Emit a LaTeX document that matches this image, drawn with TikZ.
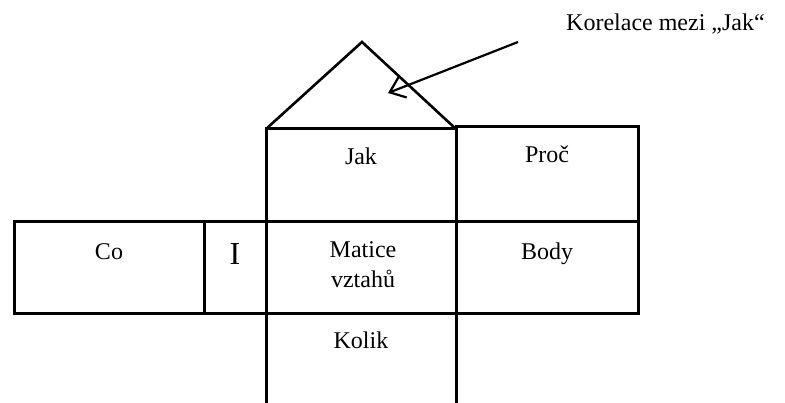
\documentclass[tikz,border=0pt]{standalone}
\usepackage{fontspec}
\setmainfont{Liberation Serif}
\usetikzlibrary{arrows.meta}
\begin{document}
\begin{tikzpicture}[x=1pt,y=-1pt,
  frame/.style={line width=3pt, line cap=rect},
  roof/.style={line width=2.6pt, line join=miter},
  label/.style={font=\fontsize{24}{28}\selectfont, anchor=base, inner sep=0pt},
  bigletter/.style={font=\fontsize{32}{36}\selectfont, anchor=base, inner sep=0pt},
  pointer/.style={line width=2.2pt, -{Straight Barb[length=14pt, width=22pt, line width=2.2pt]}}]
\useasboundingbox (0,0) rectangle (785,403);

% grid corners
\coordinate (jakTL) at (266,129);
\coordinate (jakTR) at (456,129);
\coordinate (proTL) at (456,127);
\coordinate (proTR) at (638,127);
\coordinate (apex)  at (362,42);
\coordinate (tail)  at (518,42);
\coordinate (head)  at (388,93);

% roof
\draw[roof] (jakTL) -- (apex) -- (jakTR);

% horizontal lines
\draw[frame] (jakTL) -- (jakTR);
\draw[frame] (proTL) -- (proTR);
\draw[frame] (14,222) -- (638,222);
\draw[frame] (14,314) -- (638,314);

% vertical lines
\draw[frame] (14,222) -- (14,314);
\draw[frame] (204,222) -- (204,314);
\draw[frame] (jakTL) -- (266,403);
\draw[frame] (proTL) -- (456,403);
\draw[frame] (proTR) -- (638,314);

% cell texts
\node[label] (jak)   at (361,165) {Jak};
\node[label] (proc)  at (547,163) {Proč};
\node[label] (co)    at (109,260) {Co};
\node[bigletter] (i) at (235,265) {I};
\node[label] (mat1)  at (363,258) {Matice};
\node[label] (mat2)  at (363,288) {vztahů};
\node[label] (body)  at (547,260) {Body};
\node[label] (kolik) at (361,349) {Kolik};

% annotation
\node[label, anchor=base west] (note) at (566,31) {Korelace mezi „Jak“};
\draw[pointer] (tail) -- (head);
\end{tikzpicture}
\end{document}
